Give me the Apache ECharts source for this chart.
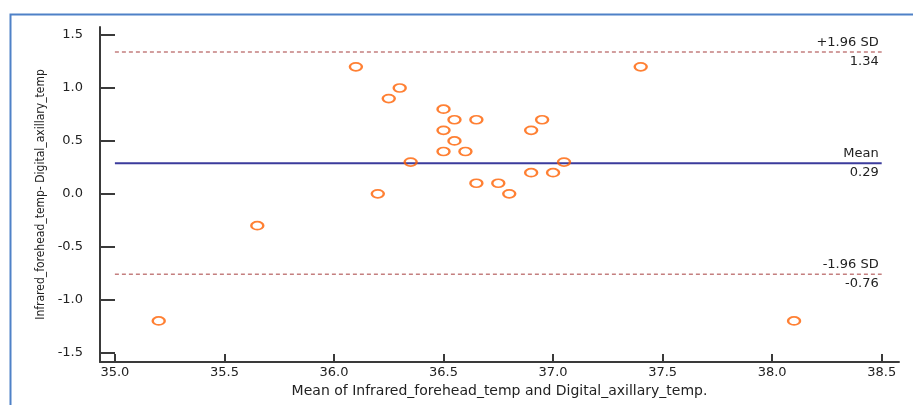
<!DOCTYPE html>
<html>
<head>
<meta charset="utf-8">
<script src="https://cdn.jsdelivr.net/npm/echarts@6/dist/echarts.min.js"></script>
<style>
  html, body { margin: 0; padding: 0; background: #fff; }
  #main { width: 913px; height: 405px; }
</style>
</head>
<body>
<div id="main"></div>
<script>
// Bland-Altman data: mean of both methods vs difference
var meanTemp = [35.2, 35.65, 36.1, 36.2, 36.25, 36.3, 36.35, 36.5, 36.5, 36.5,
                36.55, 36.55, 36.6, 36.65, 36.65, 36.75, 36.8, 36.9, 36.9, 36.95,
                37.0, 37.05, 37.4, 38.1];
var diffTemp = [-1.2, -0.3, 1.2, 0.0, 0.9, 1.0, 0.3, 0.8, 0.6, 0.4,
                0.7, 0.5, 0.4, 0.7, 0.1, 0.1, 0.0, 0.6, 0.2, 0.7,
                0.2, 0.3, 1.2, -1.2];

var limitNames = ['+1.96 SD', 'Mean', '-1.96 SD'];
var limitValues = [1.34, 0.29, -0.76];
var lineRange = [35.0, 38.5];

var xTicks = [35.0, 35.5, 36.0, 36.5, 37.0, 37.5, 38.0, 38.5];
var yTicks = [-1.5, -1.0, -0.5, 0.0, 0.5, 1.0, 1.5];

var txtFont = "'DejaVu Sans', 'Liberation Sans', sans-serif";
var axisCol = '#3a3a3a';

var myChart = echarts.init(document.getElementById('main'));

var points = [];
for (var i = 0; i < meanTemp.length; i++) {
    points.push([meanTemp[i], diffTemp[i]]);
}

function limitSeries(idx) {
    var v = limitValues[idx];
    var isMean = limitNames[idx] == 'Mean';
    return {
        type: 'line',
        z: 1,
        silent: true,
        symbol: 'circle',
        symbolSize: 0,
        showSymbol: true,
        lineStyle: {
            color: isMean ? '#3b3b9c' : '#c47f7f',
            width: isMean ? 2 : 1.5,
            type: isMean ? 'solid' : [4, 3]
        },
        data: [
            [lineRange[0], v],
            {
                value: [lineRange[1], v],
                label: {
                    show: true,
                    position: 'left',
                    distance: 3,
                    formatter: '{a|' + limitNames[idx] + '}\n{b|' + v.toFixed(2) + '}',
                    rich: {
                        a: { fontFamily: txtFont, fontSize: 13, color: '#222', lineHeight: 19, align: 'right' },
                        b: { fontFamily: txtFont, fontSize: 13, color: '#222', lineHeight: 19, align: 'right' }
                    }
                }
            }
        ]
    };
}

var option = {
    animation: false,
    backgroundColor: '#fff',
    graphic: [{
        type: 'rect',
        left: 8, top: 12,
        shape: { width: 1000, height: 500 },
        style: { fill: 'none', stroke: '#4f81c7', lineWidth: 2 },
        silent: true
    }],
    grid: { left: 100, right: 14, top: 27, bottom: 43 },
    xAxis: {
        type: 'value',
        min: 34.932,
        max: 38.579,
        name: 'Mean of Infrared_forehead_temp and Digital_axillary_temp.',
        nameLocation: 'middle',
        nameGap: 20,
        nameTextStyle: { fontFamily: txtFont, fontSize: 14, color: '#222' },
        axisLine: { onZero: false, lineStyle: { color: axisCol, width: 2 } },
        axisTick: { inside: true, length: 8, customValues: xTicks, lineStyle: { color: axisCol, width: 2 } },
        axisLabel: {
            customValues: xTicks,
            margin: 4,
            fontFamily: txtFont, fontSize: 13, color: '#222',
            formatter: function (v) { return v.toFixed(1); }
        },
        splitLine: { show: false }
    },
    yAxis: {
        type: 'value',
        min: -1.588,
        max: 1.576,
        name: 'Infrared_forehead_temp- Digital_axillary_temp',
        nameLocation: 'middle',
        nameGap: 52,
        nameTextStyle: {
            fontFamily: "'Liberation Sans Narrow', 'DejaVu Sans Condensed', sans-serif",
            fontSize: 12, color: '#222'
        },
        axisLine: { onZero: false, lineStyle: { color: axisCol, width: 2 } },
        axisTick: { inside: true, length: 15, customValues: yTicks, lineStyle: { color: axisCol, width: 2 } },
        axisLabel: {
            customValues: yTicks,
            margin: 17,
            fontFamily: txtFont, fontSize: 13, color: '#222',
            formatter: function (v) { return v.toFixed(1); }
        },
        splitLine: { show: false }
    },
    series: [
        limitSeries(0),
        limitSeries(1),
        limitSeries(2),
        {
            type: 'scatter',
            z: 3,
            symbol: 'path://M0,5 A6,5 0 1,1 12,5 A6,5 0 1,1 0,5 Z',
            symbolSize: [12, 8],
            itemStyle: { color: 'rgba(255,255,255,0)', borderColor: '#ff6000', borderWidth: 2 },
            data: points
        }
    ]
};

myChart.setOption(option);
</script>
</body>
</html>
